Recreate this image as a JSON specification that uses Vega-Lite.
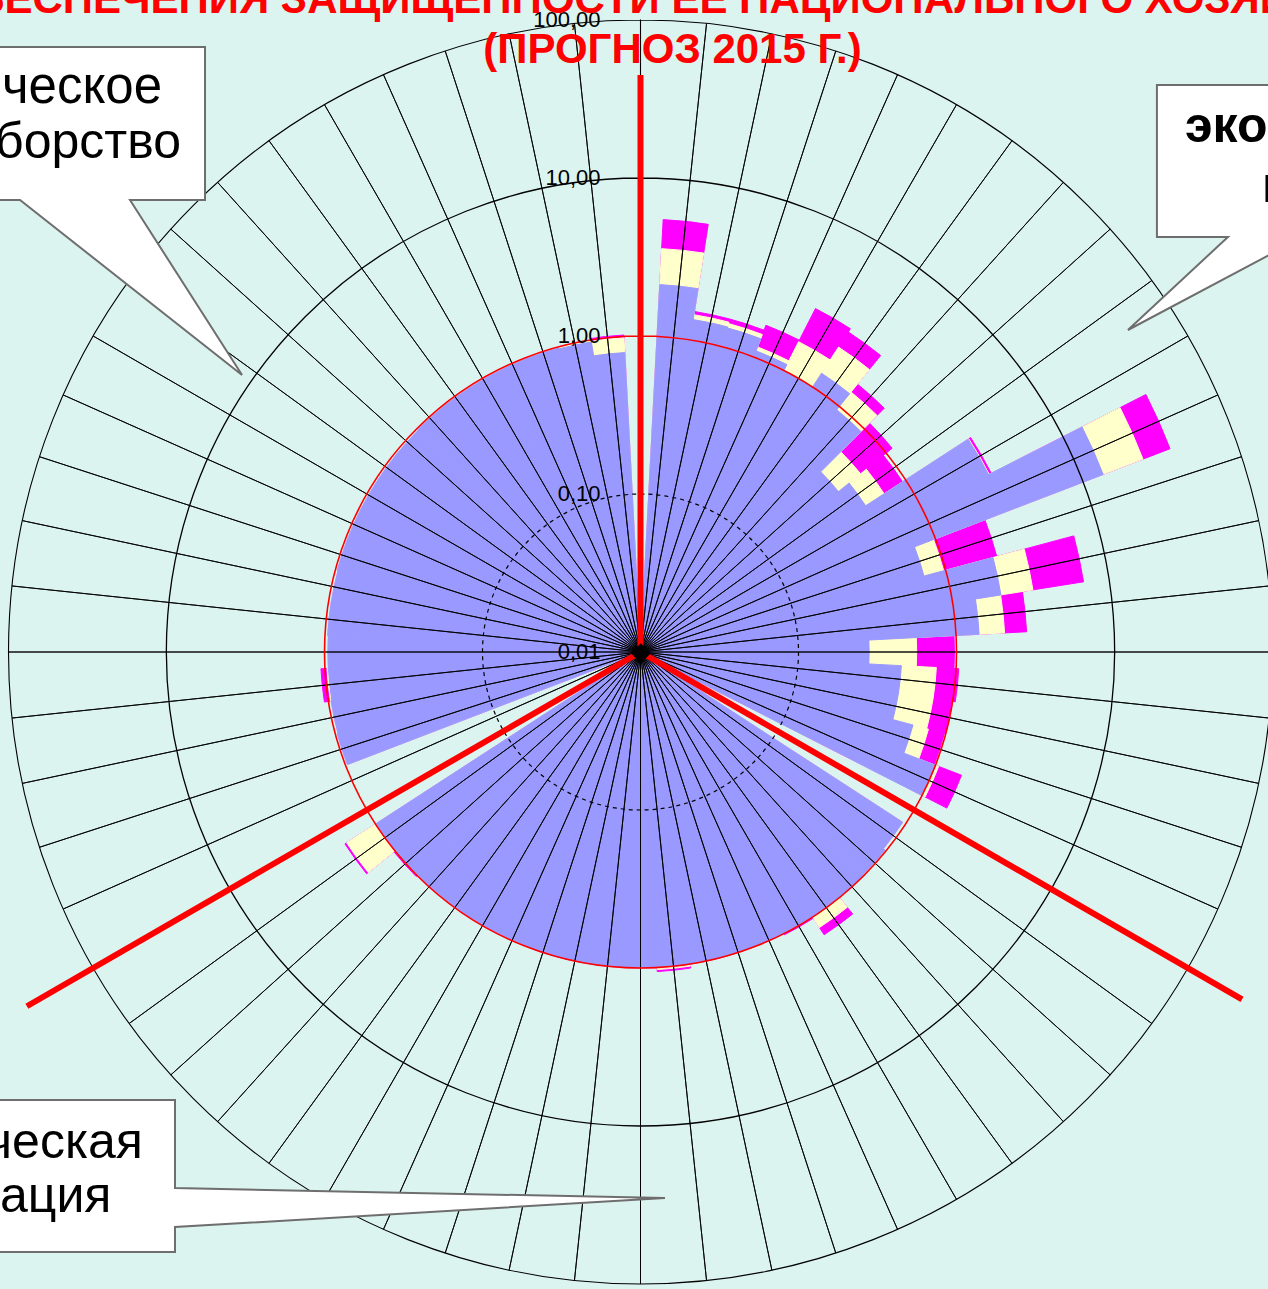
{
  "$schema": "https://vega.github.io/schema/vega-lite/v6.json",
  "width": 1255,
  "height": 1274,
  "autosize": {"type": "none"},
  "padding": {"left": 13, "top": 15, "right": 0, "bottom": 0},
  "background": "#DBF4EF",
  "config": {"view": {"stroke": null}, "font": "Liberation Sans"},
  "title": {
    "text": ["ОБЕСПЕЧЕНИЯ ЗАЩИЩЕННОСТИ ЕЕ НАЦИОНАЛЬНОГО ХОЗЯЙСТВА", "(ПРОГНОЗ 2015 Г.)"],
    "color": "#FF0000",
    "font": "Liberation Sans",
    "fontSize": 42,
    "fontWeight": "bold",
    "anchor": "middle",
    "frame": "group",
    "baseline": "alphabetic",
    "lineHeight": 50,
    "offset": 0,
    "dx": 32,
    "dy": 96
  },
  "datasets": {
    "spokes": [
      {"i": 0, "purple": 0.01, "yellow": 0.01, "magenta": 0.01},
      {"i": 1, "purple": 2.13, "yellow": 3.6, "magenta": 5.5},
      {"i": 2, "purple": 1.35, "yellow": 1.45, "magenta": 1.52},
      {"i": 3, "purple": 1.33, "yellow": 1.42, "magenta": 1.52},
      {"i": 4, "purple": 1.1, "yellow": 1.17, "magenta": 1.64},
      {"i": 5, "purple": 1.0, "yellow": 1.6, "magenta": 2.75},
      {"i": 6, "purple": 1.27, "yellow": 2.0, "magenta": 2.6},
      {"i": 7, "purple": 0.94, "yellow": 1.31, "magenta": 1.52},
      {"i": 8, "purple": 0.41, "yellow": 0.62, "magenta": 1.12},
      {"i": 9, "purple": 0.5, "yellow": 0.69, "magenta": 0.95},
      {"i": 10, "purple": 2.97, "yellow": 3.0, "magenta": 3.1},
      {"i": 11, "purple": 13.7, "yellow": 25.5, "magenta": 38.9},
      {"i": 12, "purple": 0.72, "yellow": 0.97, "magenta": 2.16},
      {"i": 13, "purple": 2.04, "yellow": 3.27, "magenta": 6.9},
      {"i": 14, "purple": 1.4, "yellow": 2.03, "magenta": 2.8},
      {"i": 15, "purple": 0.28, "yellow": 0.56, "magenta": 0.97},
      {"i": 16, "purple": 0.45, "yellow": 0.75, "magenta": 1.04},
      {"i": 17, "purple": 0.45, "yellow": 0.75, "magenta": 1.0},
      {"i": 18, "purple": 0.61, "yellow": 0.77, "magenta": 0.98},
      {"i": 19, "purple": 1.0, "yellow": 1.05, "magenta": 1.5},
      {"i": 20, "purple": 0.01, "yellow": 0.01, "magenta": 0.01},
      {"i": 21, "purple": 0.95, "yellow": 0.95, "magenta": 0.95},
      {"i": 22, "purple": 0.98, "yellow": 0.98, "magenta": 0.98},
      {"i": 23, "purple": 1.0, "yellow": 1.0, "magenta": 1.0},
      {"i": 24, "purple": 1.0, "yellow": 1.2, "magenta": 1.36},
      {"i": 25, "purple": 1.0, "yellow": 1.0, "magenta": 1.02},
      {"i": 26, "purple": 1.0, "yellow": 1.0, "magenta": 1.0},
      {"i": 27, "purple": 1.0, "yellow": 1.0, "magenta": 1.0},
      {"i": 28, "purple": 1.0, "yellow": 1.0, "magenta": 1.0},
      {"i": 29, "purple": 1.0, "yellow": 1.03, "magenta": 1.06},
      {"i": 30, "purple": 1.0, "yellow": 1.0, "magenta": 1.0},
      {"i": 31, "purple": 1.0, "yellow": 1.0, "magenta": 1.0},
      {"i": 32, "purple": 1.0, "yellow": 1.0, "magenta": 1.0},
      {"i": 33, "purple": 1.0, "yellow": 1.0, "magenta": 1.0},
      {"i": 34, "purple": 0.99, "yellow": 0.99, "magenta": 0.99},
      {"i": 35, "purple": 0.99, "yellow": 0.99, "magenta": 0.99},
      {"i": 36, "purple": 0.99, "yellow": 0.99, "magenta": 0.99},
      {"i": 37, "purple": 0.99, "yellow": 0.99, "magenta": 0.99},
      {"i": 38, "purple": 1.0, "yellow": 1.0, "magenta": 1.02},
      {"i": 39, "purple": 1.0, "yellow": 1.65, "magenta": 1.7},
      {"i": 40, "purple": 0.01, "yellow": 0.01, "magenta": 0.01},
      {"i": 41, "purple": 0.01, "yellow": 0.01, "magenta": 0.01},
      {"i": 42, "purple": 0.97, "yellow": 0.97, "magenta": 0.97},
      {"i": 43, "purple": 0.96, "yellow": 0.96, "magenta": 0.96},
      {"i": 44, "purple": 0.95, "yellow": 0.97, "magenta": 1.06},
      {"i": 45, "purple": 0.95, "yellow": 0.95, "magenta": 0.95},
      {"i": 46, "purple": 0.96, "yellow": 0.96, "magenta": 0.96},
      {"i": 47, "purple": 0.96, "yellow": 0.96, "magenta": 0.96},
      {"i": 48, "purple": 0.97, "yellow": 0.97, "magenta": 0.97},
      {"i": 49, "purple": 0.97, "yellow": 0.97, "magenta": 0.97},
      {"i": 50, "purple": 0.97, "yellow": 0.97, "magenta": 0.97},
      {"i": 51, "purple": 0.97, "yellow": 0.97, "magenta": 0.97},
      {"i": 52, "purple": 0.97, "yellow": 0.97, "magenta": 0.97},
      {"i": 53, "purple": 0.98, "yellow": 0.98, "magenta": 0.98},
      {"i": 54, "purple": 0.98, "yellow": 0.98, "magenta": 0.98},
      {"i": 55, "purple": 0.98, "yellow": 0.98, "magenta": 0.98},
      {"i": 56, "purple": 0.98, "yellow": 0.98, "magenta": 0.98},
      {"i": 57, "purple": 0.98, "yellow": 0.98, "magenta": 0.98},
      {"i": 58, "purple": 0.97, "yellow": 1.0, "magenta": 1.0},
      {"i": 59, "purple": 0.79, "yellow": 0.98, "magenta": 1.02}
    ],
    "ticks": [
      {"v": 0.01, "t": "0,01"},
      {"v": 0.1, "t": "0,10"},
      {"v": 1, "t": "1,00"},
      {"v": 10, "t": "10,00"},
      {"v": 100, "t": "100,00"}
    ],
    "dividers": [
      {"spoke": 0, "len": 44.9},
      {"spoke": 20, "len": 249},
      {"spoke": 40, "len": 305}
    ]
  },
  "layer": [
    {
      "data": {"name": "spokes"},
      "mark": {"type": "arc", "fill": "#FF00FF", "stroke": "#FF00FF", "strokeWidth": 1, "thetaOffset": -0.05236, "theta2Offset": 0.05236},
      "encoding": {
        "theta": {"field": "i", "type": "quantitative", "stack": null, "scale": {"domain": [0, 60], "range": [0, 6.283185], "nice": false, "zero": false}},
        "theta2": {"field": "i"},
        "radius": {"field": "magenta", "type": "quantitative", "scale": {"type": "log", "domain": [0.01, 100], "range": [0, 632], "nice": false, "zero": false}}
      }
    },
    {
      "data": {"name": "spokes"},
      "mark": {"type": "arc", "fill": "#FFFFCC", "stroke": "#FFFFCC", "strokeWidth": 1, "thetaOffset": -0.05236, "theta2Offset": 0.05236},
      "encoding": {
        "theta": {"field": "i", "type": "quantitative", "stack": null, "scale": {"domain": [0, 60], "range": [0, 6.283185], "nice": false, "zero": false}},
        "theta2": {"field": "i"},
        "radius": {"field": "yellow", "type": "quantitative", "scale": {"type": "log", "domain": [0.01, 100], "range": [0, 632], "nice": false, "zero": false}}
      }
    },
    {
      "data": {"name": "spokes"},
      "mark": {"type": "arc", "fill": "#9999FF", "stroke": "#9999FF", "strokeWidth": 1, "thetaOffset": -0.05236, "theta2Offset": 0.05236},
      "encoding": {
        "theta": {"field": "i", "type": "quantitative", "stack": null, "scale": {"domain": [0, 60], "range": [0, 6.283185], "nice": false, "zero": false}},
        "theta2": {"field": "i"},
        "radius": {"field": "purple", "type": "quantitative", "scale": {"type": "log", "domain": [0.01, 100], "range": [0, 632], "nice": false, "zero": false}}
      }
    },
    {
      "data": {"name": "spokes"},
      "mark": {"type": "arc", "filled": false, "stroke": "#000000", "strokeWidth": 0.9},
      "encoding": {
        "theta": {"field": "i", "type": "quantitative", "stack": null, "scale": {"domain": [0, 60], "range": [0, 6.283185], "nice": false, "zero": false}},
        "theta2": {"field": "i"},
        "radius": {"datum": 100, "type": "quantitative", "scale": {"type": "log", "domain": [0.01, 100], "range": [0, 632], "nice": false, "zero": false}}
      }
    },
    {
      "data": {"values": [{}]},
      "mark": {"type": "arc", "theta": 0, "theta2": 6.283185, "filled": false, "stroke": "#000000", "strokeWidth": 1.2, "strokeDash": [4, 4]},
      "encoding": {
        "radius": {"datum": 0.1, "type": "quantitative", "scale": {"type": "log", "domain": [0.01, 100], "range": [0, 632], "nice": false, "zero": false}}
      }
    },
    {
      "data": {"values": [{}]},
      "mark": {"type": "arc", "theta": 0, "theta2": 6.283185, "filled": false, "stroke": "#000000", "strokeWidth": 1.3},
      "encoding": {
        "radius": {"datum": 10, "type": "quantitative", "scale": {"type": "log", "domain": [0.01, 100], "range": [0, 632], "nice": false, "zero": false}}
      }
    },
    {
      "data": {"values": [{}]},
      "mark": {"type": "arc", "theta": 0, "theta2": 6.283185, "filled": false, "stroke": "#000000", "strokeWidth": 1.1},
      "encoding": {
        "radius": {"datum": 100, "type": "quantitative", "scale": {"type": "log", "domain": [0.01, 100], "range": [0, 632], "nice": false, "zero": false}}
      }
    },
    {
      "data": {"values": [{}]},
      "mark": {"type": "arc", "theta": 0, "theta2": 6.283185, "filled": false, "stroke": "#FF0000", "strokeWidth": 1.6},
      "encoding": {
        "radius": {"datum": 1, "type": "quantitative", "scale": {"type": "log", "domain": [0.01, 100], "range": [0, 632], "nice": false, "zero": false}}
      }
    },
    {
      "data": {"name": "dividers"},
      "mark": {"type": "arc", "filled": false, "stroke": "#FF0000", "strokeWidth": 6},
      "encoding": {
        "theta": {"field": "spoke", "type": "quantitative", "stack": null, "scale": {"domain": [0, 60], "range": [0, 6.283185], "nice": false, "zero": false}},
        "theta2": {"field": "spoke"},
        "radius": {"field": "len", "type": "quantitative", "scale": {"type": "log", "domain": [0.01, 100], "range": [0, 632], "nice": false, "zero": false}}
      }
    },
    {
      "data": {"name": "ticks"},
      "mark": {"type": "text", "align": "right", "baseline": "middle", "dx": -40, "fontSize": 22, "font": "Liberation Sans", "color": "#000000"},
      "encoding": {
        "theta": {"value": 0},
        "radius": {"field": "v", "type": "quantitative", "scale": {"type": "log", "domain": [0.01, 100], "range": [0, 632], "nice": false, "zero": false}},
        "text": {"field": "t"}
      }
    },
    {
      "data": {"values": [{}]},
      "mark": {"type": "text", "text": "◆", "font": "DejaVu Sans", "fontSize": 26, "align": "center", "baseline": "middle", "color": "#000000"},
      "encoding": {
        "theta": {"value": 0},
        "radius": {"datum": 0.01, "type": "quantitative", "scale": {"type": "log", "domain": [0.01, 100], "range": [0, 632], "nice": false, "zero": false}}
      }
    },
    {
      "data": {"values": [{}]},
      "mark": {"type": "point", "shape": "M-254,-328 L-37,-328 L-37,-175 L-112,-175 L0,0 L-222,-175 L-254,-175 Z", "size": 4, "filled": true, "fill": "#FFFFFF", "stroke": "#6E6E6E", "strokeWidth": 2, "opacity": 1},
      "encoding": {
        "x": {"datum": -2.522, "type": "quantitative", "scale": {"domain": [-3.9715, 3.9715], "nice": false, "zero": false}, "axis": null},
        "y": {"datum": 1.753, "type": "quantitative", "scale": {"domain": [-4.0316, 4.0316], "nice": false, "zero": false}, "axis": null}
      }
    },
    {
      "data": {"values": [{}]},
      "mark": {"type": "point", "shape": "M29,-245 L180,-245 L180,-93 L175,-93 L0,0 L100,-93 L29,-93 Z", "size": 4, "filled": true, "fill": "#FFFFFF", "stroke": "#6E6E6E", "strokeWidth": 2, "opacity": 1},
      "encoding": {
        "x": {"datum": 3.085, "type": "quantitative", "scale": {"domain": [-3.9715, 3.9715], "nice": false, "zero": false}, "axis": null},
        "y": {"datum": 2.038, "type": "quantitative", "scale": {"domain": [-4.0316, 4.0316], "nice": false, "zero": false}, "axis": null}
      }
    },
    {
      "data": {"values": [{}]},
      "mark": {"type": "point", "shape": "M-677,-98 L-490,-98 L-490,-10 L0,0 L-490,29 L-490,54 L-677,54 Z", "size": 4, "filled": true, "fill": "#FFFFFF", "stroke": "#6E6E6E", "strokeWidth": 2, "opacity": 1},
      "encoding": {
        "x": {"datum": 0.155, "type": "quantitative", "scale": {"domain": [-3.9715, 3.9715], "nice": false, "zero": false}, "axis": null},
        "y": {"datum": -3.456, "type": "quantitative", "scale": {"domain": [-4.0316, 4.0316], "nice": false, "zero": false}, "axis": null}
      }
    },
    {
      "data": {"values": [{}]},
      "mark": {"type": "text", "text": "ческое", "fontSize": 51, "font": "Liberation Sans", "align": "left", "baseline": "alphabetic", "color": "#000000"},
      "encoding": {
        "x": {"datum": -4.041, "type": "quantitative", "scale": {"domain": [-3.9715, 3.9715], "nice": false, "zero": false}, "axis": null},
        "y": {"datum": 3.475, "type": "quantitative", "scale": {"domain": [-4.0316, 4.0316], "nice": false, "zero": false}, "axis": null}
      }
    },
    {
      "data": {"values": [{}]},
      "mark": {"type": "text", "text": "борство", "fontSize": 50, "font": "Liberation Sans", "align": "left", "baseline": "alphabetic", "color": "#000000"},
      "encoding": {
        "x": {"datum": -4.085, "type": "quantitative", "scale": {"domain": [-3.9715, 3.9715], "nice": false, "zero": false}, "axis": null},
        "y": {"datum": 3.127, "type": "quantitative", "scale": {"domain": [-4.0316, 4.0316], "nice": false, "zero": false}, "axis": null}
      }
    },
    {
      "data": {"values": [{}]},
      "mark": {"type": "text", "text": "эко", "fontSize": 50, "font": "Liberation Sans", "fontWeight": "bold", "align": "left", "baseline": "alphabetic", "color": "#000000"},
      "encoding": {
        "x": {"datum": 3.446, "type": "quantitative", "scale": {"domain": [-3.9715, 3.9715], "nice": false, "zero": false}, "axis": null},
        "y": {"datum": 3.228, "type": "quantitative", "scale": {"domain": [-4.0316, 4.0316], "nice": false, "zero": false}, "axis": null}
      }
    },
    {
      "data": {"values": [{}]},
      "mark": {"type": "text", "text": "н", "fontSize": 50, "font": "Liberation Sans", "fontWeight": "bold", "align": "left", "baseline": "alphabetic", "color": "#000000"},
      "encoding": {
        "x": {"datum": 3.934, "type": "quantitative", "scale": {"domain": [-3.9715, 3.9715], "nice": false, "zero": false}, "axis": null},
        "y": {"datum": 2.848, "type": "quantitative", "scale": {"domain": [-4.0316, 4.0316], "nice": false, "zero": false}, "axis": null}
      }
    },
    {
      "data": {"values": [{}]},
      "mark": {"type": "text", "text": "ческая", "fontSize": 50, "font": "Liberation Sans", "align": "left", "baseline": "alphabetic", "color": "#000000"},
      "encoding": {
        "x": {"datum": -4.142, "type": "quantitative", "scale": {"domain": [-3.9715, 3.9715], "nice": false, "zero": false}, "axis": null},
        "y": {"datum": -3.203, "type": "quantitative", "scale": {"domain": [-4.0316, 4.0316], "nice": false, "zero": false}, "axis": null}
      }
    },
    {
      "data": {"values": [{}]},
      "mark": {"type": "text", "text": "ация", "fontSize": 50, "font": "Liberation Sans", "align": "left", "baseline": "alphabetic", "color": "#000000"},
      "encoding": {
        "x": {"datum": -4.054, "type": "quantitative", "scale": {"domain": [-3.9715, 3.9715], "nice": false, "zero": false}, "axis": null},
        "y": {"datum": -3.544, "type": "quantitative", "scale": {"domain": [-4.0316, 4.0316], "nice": false, "zero": false}, "axis": null}
      }
    }
  ]
}
